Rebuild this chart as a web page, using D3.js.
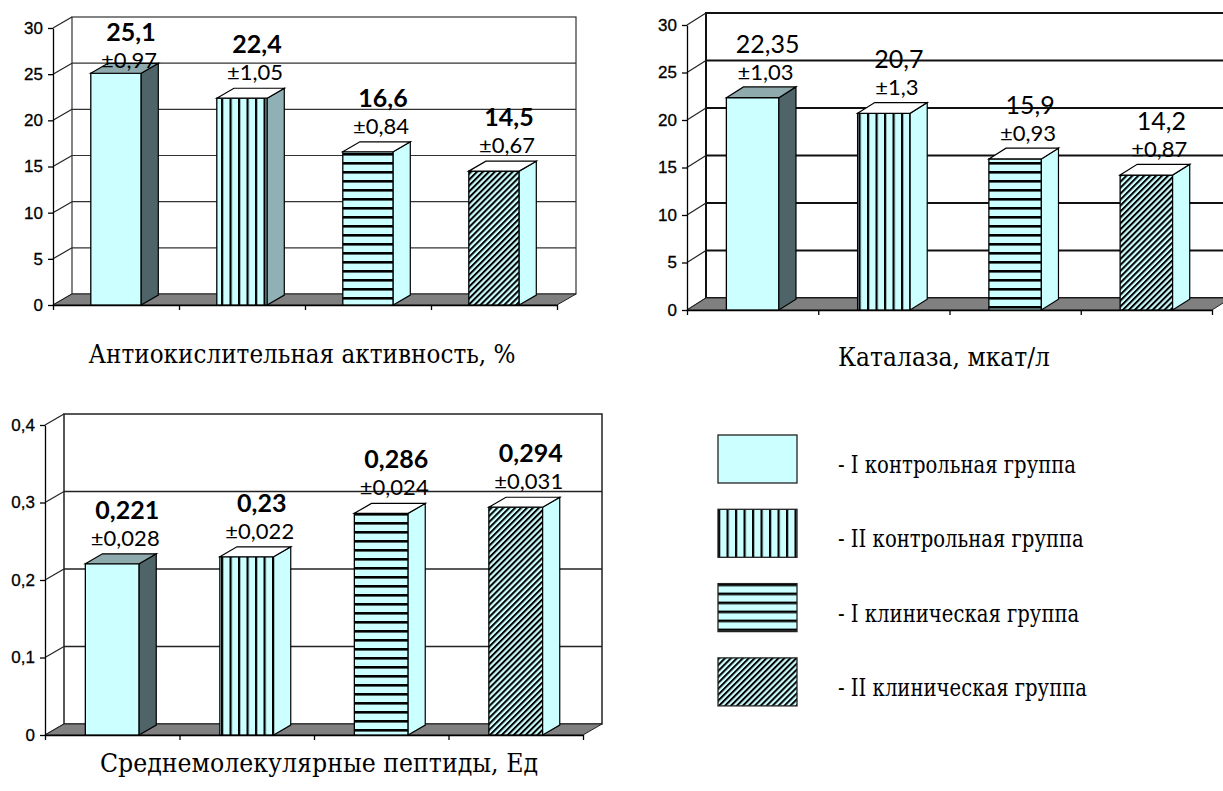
<!DOCTYPE html>
<html>
<head>
<meta charset="utf-8">
<script src="https://cdn.jsdelivr.net/npm/d3@7"></script>
<style>
  body { margin: 0; background: #fff; }
  svg { display: block; }
</style>
</head>
<body>
<script>
// Data

var groups = ["I контрольная группа", "II контрольная группа", "I клиническая группа", "II клиническая группа"];

var antioxTitle = "Антиокислительная активность, %";
var antioxValues = [25.1, 22.4, 16.6, 14.5];
var antioxErrors = [0.97, 1.05, 0.84, 0.67];
var antioxTicks = [0, 5, 10, 15, 20, 25, 30];

var catalaseTitle = "Каталаза, мкат/л";
var catalaseValues = [22.35, 20.7, 15.9, 14.2];
var catalaseErrors = [1.03, 1.3, 0.93, 0.87];
var catalaseTicks = [0, 5, 10, 15, 20, 25, 30];

var peptideTitle = "Среднемолекулярные пептиды, Ед";
var peptideValues = [0.221, 0.23, 0.286, 0.294];
var peptideErrors = [0.028, 0.022, 0.024, 0.031];
var peptideTicks = [0, 0.1, 0.2, 0.3, 0.4];

// ---------------------------------------------------------------

var W = 1223, H = 791;
var CYAN = "#ccffff";
var SANS = "Liberation Sans";
var SERIF = "DejaVu Serif";   // the only serif face that resolves here; squeezed below

var ru = d3.formatLocale({decimal: ",", thousands: " ", grouping: [3], currency: ["", ""]});
function comma(v) { return String(v).replace(".", ","); }

var svg = d3.select("body").append("svg")
  .attr("width", W)
  .attr("height", H);

// fill patterns
var defs = svg.append("defs");

var pv = defs.append("pattern").attr("id", "vert")
  .attr("patternUnits", "userSpaceOnUse").attr("width", 8.5).attr("height", 10);
pv.append("rect").attr("width", 8.5).attr("height", 10).attr("fill", CYAN);
pv.append("rect").attr("width", 2.2).attr("height", 10).attr("fill", "#000");

var ph = defs.append("pattern").attr("id", "horiz")
  .attr("patternUnits", "userSpaceOnUse").attr("width", 10).attr("height", 9);
ph.append("rect").attr("width", 10).attr("height", 9).attr("fill", CYAN);
ph.append("rect").attr("width", 10).attr("height", 2.6).attr("fill", "#000");

var pd = defs.append("pattern").attr("id", "diag")
  .attr("patternUnits", "userSpaceOnUse").attr("width", 4.2).attr("height", 10)
  .attr("patternTransform", "rotate(45)");
pd.append("rect").attr("width", 4.2).attr("height", 10).attr("fill", CYAN);
pd.append("rect").attr("width", 2).attr("height", 10).attr("fill", "#000");

var fills = [CYAN, "url(#vert)", "url(#horiz)", "url(#diag)"];

var charts = [
  {values: antioxValues, errors: antioxErrors, ticks: antioxTicks, title: antioxTitle,
   fmt: ru.format("d"), left: 53, right: 557, y0: 305, yTop: 28, dx: 19, dy: -11,
   titleX: 302, titleY: 363, titleW: 427, grid: 1.2, gridColor: "#333", valueWeight: "bold", greySecond: true},
  {values: catalaseValues, errors: catalaseErrors, ticks: catalaseTicks, title: catalaseTitle,
   fmt: ru.format("d"), left: 687, right: 1212, y0: 310, yTop: 25, dx: 19, dy: -12,
   titleX: 944, titleY: 366, titleW: 212, grid: 2, gridColor: "#111", valueWeight: "normal", greySecond: false},
  {values: peptideValues, errors: peptideErrors, ticks: peptideTicks, title: peptideTitle,
   fmt: ru.format(".1~f"), left: 45, right: 583, y0: 735, yTop: 425, dx: 19, dy: -11,
   titleX: 319, titleY: 772, titleW: 438, grid: 1.5, gridColor: "#222", valueWeight: "bold", greySecond: false}
];

charts.forEach(function(c) {
  var g = svg.append("g");
  var ymax = d3.max(c.ticks);

  var y = d3.scaleLinear().domain([0, ymax]).range([c.y0, c.yTop]);
  var x = d3.scaleBand().domain(groups).range([c.left, c.right])
    .paddingInner(0.6).paddingOuter(0.3);

  var dx = c.dx, dy = c.dy;

  // back wall
  g.append("rect")
    .attr("x", c.left + dx).attr("y", y(ymax) + dy)
    .attr("width", c.right - c.left).attr("height", c.y0 - y(ymax))
    .attr("fill", "#fff").attr("stroke", c.gridColor).attr("stroke-width", c.grid);

  // grid lines on back wall + side wall
  g.selectAll(".grid").data(c.ticks.filter(function(t) { return t > 0 && t < ymax; }))
    .enter().append("line")
    .attr("x1", c.left + dx).attr("x2", c.right + dx)
    .attr("y1", function(t) { return y(t) + dy; })
    .attr("y2", function(t) { return y(t) + dy; })
    .attr("stroke", c.gridColor).attr("stroke-width", c.grid);

  g.selectAll(".side").data(c.ticks)
    .enter().append("line")
    .attr("x1", c.left).attr("x2", c.left + dx)
    .attr("y1", function(t) { return y(t); })
    .attr("y2", function(t) { return y(t) + dy; })
    .attr("stroke", "#222").attr("stroke-width", 1.2);

  // floor
  g.append("polygon")
    .attr("points", [[c.left, c.y0], [c.right, c.y0], [c.right + dx, c.y0 + dy], [c.left + dx, c.y0 + dy]].join(" "))
    .attr("fill", "#808080").attr("stroke", "#222").attr("stroke-width", 1);

  // value axis
  g.append("g")
    .attr("transform", "translate(" + c.left + ",0)")
    .call(d3.axisLeft(y).tickValues(c.ticks).tickFormat(c.fmt).tickSize(5).tickSizeOuter(0).tickPadding(5))
    .call(function(a) {
      a.attr("font-family", null).attr("font-size", null);
      a.select(".domain").attr("stroke", "#000").attr("stroke-width", 1.3);
      a.selectAll(".tick line").attr("stroke", "#000").attr("stroke-width", 1.3);
      a.selectAll("text").style("font-family", SANS).style("font-size", "17px")
        .attr("fill", "#000").attr("stroke", "#000").attr("stroke-width", 0.3);
    });

  // category axis (ticks between groups)
  var xb = d3.scaleLinear().domain([0, groups.length]).range([c.left, c.right]);
  g.append("g")
    .attr("transform", "translate(0," + c.y0 + ")")
    .call(d3.axisBottom(xb).tickValues(d3.range(groups.length + 1)).tickFormat("").tickSize(5).tickSizeOuter(0))
    .call(function(a) {
      a.select(".domain").attr("stroke", "#000").attr("stroke-width", 1.3);
      a.selectAll(".tick line").attr("stroke", "#000").attr("stroke-width", 1.3);
    });

  // 3D bars
  var bdx = dx * 0.9, bdy = dy * 0.9;
  var bars = g.selectAll(".bar").data(c.values)
    .enter().append("g").attr("class", "bar");

  bars.append("rect")
    .attr("x", function(d, i) { return x(groups[i]); })
    .attr("y", function(d) { return y(d); })
    .attr("width", x.bandwidth())
    .attr("height", function(d) { return c.y0 - y(d); })
    .attr("fill", function(d, i) { return fills[i]; })
    .attr("stroke", "#000").attr("stroke-width", 1.3);

  bars.append("polygon")
    .attr("points", function(d, i) {
      var x1 = x(groups[i]) + x.bandwidth(), yv = y(d);
      return [[x1, yv], [x1 + bdx, yv + bdy], [x1 + bdx, c.y0 + bdy], [x1, c.y0]].join(" ");
    })
    .attr("fill", function(d, i) {
      if (i === 0) return "#4f6468";
      if (i === 1 && c.greySecond) return "#8fb0b4";
      return CYAN;
    })
    .attr("stroke", "#000").attr("stroke-width", 1.2);

  bars.append("polygon")
    .attr("points", function(d, i) {
      var x0 = x(groups[i]), x1 = x0 + x.bandwidth(), yv = y(d);
      return [[x0, yv], [x0 + bdx, yv + bdy], [x1 + bdx, yv + bdy], [x1, yv]].join(" ");
    })
    .attr("fill", function(d, i) { return i === 0 ? "#8faaac" : "#fff"; })
    .attr("stroke", "#000").attr("stroke-width", 1.2);

  // value ± error labels
  function errY(d) { return Math.max(y(d) - 18, y(ymax) + 40); }

  bars.append("text")
    .attr("x", function(d, i) { return x(groups[i]) + x.bandwidth() / 2 + 15; })
    .attr("y", function(d) { return errY(d) - 27; })
    .attr("text-anchor", "middle")
    .style("font-family", "Lato")
    .style("font-size", "25px")
    .style("font-weight", c.valueWeight)
    .text(function(d) { return comma(d); });

  bars.append("text")
    .attr("x", function(d, i) { return x(groups[i]) + x.bandwidth() / 2 + 13; })
    .attr("y", function(d) { return errY(d); })
    .attr("text-anchor", "middle")
    .style("font-family", "Lato")
    .style("font-size", "22px")
    .text(function(d, i) { return "±" + comma(c.errors[i]); });

  // chart caption (condensed Times-like look)
  svg.append("text")
    .attr("x", c.titleX).attr("y", c.titleY)
    .attr("text-anchor", "middle")
    .attr("textLength", c.titleW)
    .attr("lengthAdjust", "spacingAndGlyphs")
    .style("font-family", SERIF)
    .style("font-size", "26px")
    .text(c.title);
});

// legend
var legend = svg.append("g").attr("transform", "translate(718,435)");
var item = legend.selectAll(".item").data(groups)
  .enter().append("g")
  .attr("transform", function(d, i) { return "translate(0," + (i * 74.3) + ")"; });

item.append("rect")
  .attr("width", 79).attr("height", 48)
  .attr("fill", function(d, i) { return fills[i]; })
  .attr("stroke", "#222").attr("stroke-width", 1.3);

var legendText = item.append("text")
  .attr("x", 120).attr("y", 38)
  .style("font-family", SERIF)
  .style("font-size", "24px")
  .text(function(d) { return "- " + d; });

// squeeze legend labels so the longest one is ~249px, like the original
var widths = legendText.nodes().map(function(n) { return n.getComputedTextLength(); });
var squeeze = 249 / d3.max(widths);
legendText
  .attr("textLength", function(d, i) { return widths[i] * squeeze; })
  .attr("lengthAdjust", "spacingAndGlyphs");
</script>
</body>
</html>
